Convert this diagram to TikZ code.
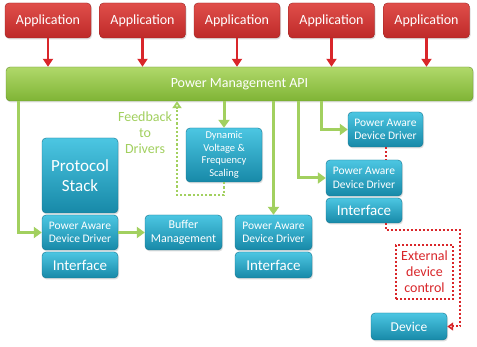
\documentclass[tikz,border=0pt]{standalone}
\usepackage{fontspec}
\setmainfont{Carlito}
\usetikzlibrary{arrows.meta,shadows}

\definecolor{appred}{HTML}{BE2A29}
\definecolor{appredtop}{HTML}{E04E4A}
\definecolor{apigreen}{HTML}{7FB435}
\definecolor{apigreentop}{HTML}{B0D86A}
\definecolor{blktop}{HTML}{4CC6E2}
\definecolor{blkbot}{HTML}{1789A8}
\definecolor{linegreen}{HTML}{A2D05F}
\definecolor{ctlred}{HTML}{D9262A}

\tikzset{
  appbox/.style={rectangle,rounded corners=4pt,top color=appredtop,bottom color=appred,
        draw=appred!80!black,minimum width=86pt,minimum height=35pt,text=white,
        font=\fontsize{14}{16}\selectfont,drop shadow={opacity=0.25,shadow xshift=1pt,shadow yshift=-1.5pt}},
  blk/.style={rectangle,rounded corners=4pt,top color=blktop,bottom color=blkbot,
        draw=blkbot!85!black,text=white,align=center,inner sep=1pt,
        drop shadow={opacity=0.25,shadow xshift=1pt,shadow yshift=-1.5pt}},
  small/.style={font=\fontsize{11.5}{13.5}\selectfont},
  ifc/.style={font=\fontsize{15}{17}\selectfont},
  redarr/.style={draw=ctlred,line width=2.4pt,-{Triangle[length=8pt,width=10pt]}},
  grnarr/.style={draw=linegreen,line width=3pt,-{Triangle[length=8pt,width=11pt]}},
  grndot/.style={draw=linegreen,line width=2.2pt,dotted,-{Triangle[open,length=7pt,width=9pt]}},
  reddot/.style={draw=ctlred,line width=2pt,dotted}
}

\begin{document}
\begin{tikzpicture}[x=1pt,y=-1pt]
  \useasboundingbox[fill=white] (0,0) rectangle (477,347);

  % applications
  \foreach \n/\x in {1/48,2/142.5,3/237,4/331.5,5/426.5}
    \node[appbox] (app\n) at (\x,20.5) {Application};

  \node[rectangle,rounded corners=4pt,top color=apigreentop,bottom color=apigreen,
        draw=apigreen!80!black,minimum width=467pt,minimum height=34pt,text=white,
        font=\fontsize{14}{16}\selectfont,
        drop shadow={opacity=0.25,shadow xshift=1pt,shadow yshift=-1.5pt}] (api) at (239.5,84) {Power Management API};

  \foreach \n in {1,...,5}
    \draw[redarr] (app\n.south) -- (app\n.south |- api.north);

  % left stack
  \node[blk,minimum width=76pt,minimum height=75pt,font=\fontsize{17}{20}\selectfont] (pstack) at (80,175.5) {Protocol\\Stack};
  \node[blk,small,minimum width=76pt,minimum height=35pt] (padd1) at (80,232.5) {Power Aware\\Device Driver};
  \node[blk,ifc,minimum width=76pt,minimum height=26pt] (iface1) at (80,265) {Interface};
  \node[blk,font=\fontsize{12}{14}\selectfont,minimum width=77pt,minimum height=35pt] (buffer) at (183.5,232.5) {Buffer\\Management};

  % dvfs
  \node[blk,font=\fontsize{10.5}{12.5}\selectfont,minimum width=76pt,minimum height=54pt] (dvfs) at (224,155) {Dynamic\\Voltage \&\\Frequency\\Scaling};

  % middle and right drivers
  \node[blk,small,minimum width=77pt,minimum height=35pt] (padd3) at (273.5,232.5) {Power Aware\\Device Driver};
  \node[blk,ifc,minimum width=77pt,minimum height=26pt] (iface3) at (273.5,265) {Interface};
  \node[blk,small,minimum width=76pt,minimum height=36pt] (padd2) at (364,178) {Power Aware\\Device Driver};
  \node[blk,ifc,minimum width=76pt,minimum height=25pt] (iface2) at (364,210.5) {Interface};
  \node[blk,small,minimum width=75pt,minimum height=35pt] (padd4) at (385.5,129.5) {Power Aware\\Device Driver};

  \node[blk,font=\fontsize{13.5}{15}\selectfont,minimum width=76pt,minimum height=27pt] (device) at (409,326.5) {Device};

  \node[rectangle,draw=ctlred,line width=2pt,dotted,text=ctlred,align=center,
        minimum width=57pt,minimum height=54pt,inner sep=1pt,
        font=\fontsize{14}{16}\selectfont] (extctl) at (424.5,272) {External\\device\\control};

  \node[text=linegreen,align=center,font=\fontsize{14}{16}\selectfont] (fbtext) at (145,133) {Feedback\\to\\Drivers};

  % green connectors
  \coordinate (l1) at (18,101);
  \coordinate (l2) at (298,101);
  \coordinate (l3) at (321,101);
  \coordinate (fb) at (177,195);
  \draw[grnarr] (l1) |- (padd1.west);
  \draw[grnarr] (padd1.east) -- (buffer.west);
  \draw[grnarr] (dvfs.north |- api.south) -- (dvfs.north);
  \draw[grnarr] (padd3.north |- api.south) -- (padd3.north);
  \draw[grnarr] (l2) |- (padd2.west);
  \draw[grnarr] (l3) |- (padd4.west);
  \draw[grndot] (dvfs.south) |- (fb) -- (fb |- api.south);

  % red dotted connectors
  \coordinate (ec) at (460,230);
  \draw[reddot] (padd4.south) -- (padd4.south |- padd2.north);
  \draw[reddot,-{Triangle[open,length=6pt,width=8pt]}] (iface2.south -| padd4.south) |- (ec) |- (device.east);
\end{tikzpicture}
\end{document}
